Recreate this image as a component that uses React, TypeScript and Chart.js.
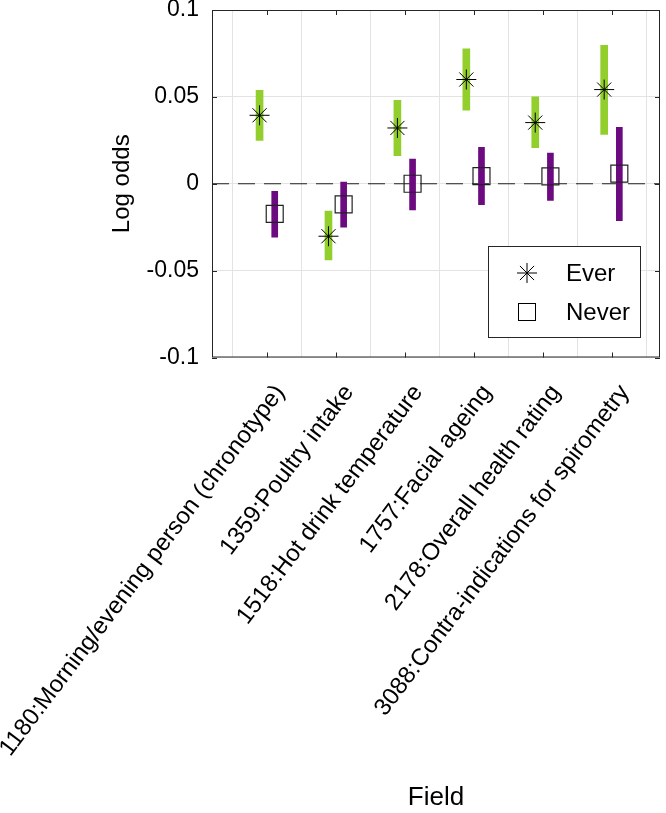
import React, { useEffect, useRef } from "react";
import { Chart, registerables } from "chart.js";

Chart.register(...registerables);

const categories = [
  "1180:Morning/evening person (chronotype)",
  "1359:Poultry intake",
  "1518:Hot drink temperature",
  "1757:Facial ageing",
  "2178:Overall health rating",
  "3088:Contra-indications for spirometry",
];
const categoryPositions = [1, 2, 3, 4, 5, 6];

const everValues = [0.0394, -0.0302, 0.0321, 0.06, 0.0352, 0.0542];
const everLower = [0.025, -0.0438, 0.0161, 0.0424, 0.0208, 0.0284];
const everUpper = [0.0537, -0.0158, 0.048, 0.0776, 0.05, 0.0796];

const neverValues = [-0.0173, -0.0119, 0.0, 0.0044, 0.0042, 0.0058];
const neverLower = [-0.0308, -0.025, -0.015, -0.0121, -0.0096, -0.0212];
const neverUpper = [-0.0043, 0.0009, 0.0142, 0.021, 0.0177, 0.0325];

const yTickValues = [-0.1, -0.05, 0, 0.05, 0.1];
const yTickLabels = ["-0.1", "-0.05", "0", "0.05", "0.1"];

const seriesNames = ["Ever", "Never"];
const groupOffset = 0.11;
const xMin = 0.2;
const xMax = 6.7;

const GREEN = "#93cf2c";
const PURPLE = "#6c0a80";
const AXIS = "#262626";
const FONT = "'Liberation Sans', Arial, Helvetica, sans-serif";

function drawStar(ctx: CanvasRenderingContext2D, x: number, y: number, r: number) {
  ctx.beginPath();
  ctx.moveTo(x - r, y);
  ctx.lineTo(x + r, y);
  ctx.moveTo(x, y - r);
  ctx.lineTo(x, y + r);
  const d = r * Math.SQRT1_2;
  ctx.moveTo(x - d, y - d);
  ctx.lineTo(x + d, y + d);
  ctx.moveTo(x - d, y + d);
  ctx.lineTo(x + d, y - d);
  ctx.stroke();
}

const framePlugin = {
  id: "frameAndLegend",
  afterDraw(chart: any) {
    const { ctx, chartArea } = chart;
    const { left, right, top, bottom } = chartArea;
    const xs = chart.scales.x;
    const ys = chart.scales.y;
    ctx.save();
    ctx.strokeStyle = AXIS;
    ctx.lineWidth = 1;
    ctx.strokeRect(left + 0.5, top + 0.5, right - left - 1, bottom - top - 1);
    const tl = 5;
    ctx.beginPath();
    categoryPositions.forEach((v) => {
      const px = Math.round(xs.getPixelForValue(v)) + 0.5;
      ctx.moveTo(px, bottom);
      ctx.lineTo(px, bottom - tl);
      ctx.moveTo(px, top);
      ctx.lineTo(px, top + tl);
    });
    yTickValues.forEach((v) => {
      const py = Math.round(ys.getPixelForValue(v)) + 0.5;
      ctx.moveTo(left, py);
      ctx.lineTo(left + tl, py);
      ctx.moveTo(right, py);
      ctx.lineTo(right - tl, py);
    });
    ctx.stroke();

    // legend box
    const bw = 152;
    const bh = 91;
    const bx = right - 20 - bw;
    const by = bottom - 20.5 - bh;
    ctx.fillStyle = "#ffffff";
    ctx.fillRect(bx, by, bw, bh);
    ctx.strokeStyle = AXIS;
    ctx.strokeRect(Math.round(bx) + 0.5, Math.round(by) + 0.5, bw, bh);
    ctx.fillStyle = "#000000";
    ctx.font = `24px ${FONT}`;
    ctx.textBaseline = "middle";
    ctx.textAlign = "left";
    const mx = bx + 39;
    const tx = bx + 78;
    const y1 = by + 27;
    const y2 = by + 66;
    ctx.strokeStyle = "#000000";
    ctx.lineWidth = 1;
    drawStar(ctx, mx, y1, 10);
    ctx.strokeRect(mx - 8.5, y2 - 8.5, 17, 17);
    ctx.fillText(seriesNames[0], tx, y1 + 1);
    ctx.fillText(seriesNames[1], tx, y2 + 1);
    ctx.restore();
  },
};

function zeroPadding(scale: any) {
  scale.paddingLeft = 0;
  scale.paddingRight = 0;
  scale.paddingTop = 0;
  scale.paddingBottom = 0;
}

export default function App() {
  const ref = useRef<HTMLCanvasElement | null>(null);

  useEffect(() => {
    if (!ref.current) return;
    const everBars = categoryPositions.map((c, i) => ({ x: c - groupOffset, y: [everLower[i], everUpper[i]] }));
    const neverBars = categoryPositions.map((c, i) => ({ x: c + groupOffset, y: [neverLower[i], neverUpper[i]] }));
    const everPts = categoryPositions.map((c, i) => ({ x: c - groupOffset, y: everValues[i] }));
    const neverPts = categoryPositions.map((c, i) => ({ x: c + groupOffset, y: neverValues[i] }));

    const chart = new Chart(ref.current, {
      type: "scatter",
      data: {
        datasets: [
          {
            type: "line",
            label: "zero",
            data: [
              { x: xMin, y: 0 },
              { x: xMax, y: 0 },
            ],
            borderColor: "#222222",
            borderWidth: 1.2,
            borderDash: [17, 9],
            pointRadius: 0,
            order: 10,
          } as any,
          {
            type: "bar",
            label: "Ever CI",
            data: everBars as any,
            backgroundColor: GREEN,
            barThickness: 7,
            grouped: false,
            order: 5,
          } as any,
          {
            type: "bar",
            label: "Never CI",
            data: neverBars as any,
            backgroundColor: PURPLE,
            barThickness: 6,
            grouped: false,
            order: 5,
          } as any,
          {
            type: "scatter",
            label: seriesNames[0],
            data: everPts,
            pointStyle: "star",
            pointRadius: 10,
            borderColor: "#000000",
            borderWidth: 1,
            backgroundColor: "#000000",
            order: 1,
          } as any,
          {
            type: "scatter",
            label: seriesNames[1],
            data: neverPts,
            pointStyle: "rect",
            pointRadius: 12,
            borderColor: "#222222",
            borderWidth: 1.2,
            backgroundColor: "rgba(0,0,0,0)",
            order: 1,
          } as any,
        ],
      },
      options: {
        animation: false,
        responsive: false,
        devicePixelRatio: 1,
        layout: { autoPadding: false, padding: { top: 10, right: 6, left: 0, bottom: 0 } },
        plugins: {
          legend: { display: false },
          tooltip: { enabled: false },
        },
        scales: {
          x: {
            type: "linear",
            min: xMin,
            max: xMax,
            offset: false,
            afterBuildTicks: (scale: any) => {
              scale.ticks = categoryPositions.map((v) => ({ value: v }));
            },
            afterFit: (scale: any) => {
              scale.height = 813 - 357.5 - 0;
              zeroPadding(scale);
            },
            ticks: {
              autoSkip: false,
              maxRotation: 53,
              minRotation: 53,
              padding: 22,
              labelOffset: 13,
              color: "#000000",
              font: { family: FONT, size: 24 },
              callback: (v: any) => {
                const idx = categoryPositions.indexOf(Number(v));
                return idx >= 0 ? categories[idx] : "";
              },
            },
            grid: { color: "#e3e3e3", drawTicks: false, lineWidth: 1 },
            border: { display: false },
            title: {
              display: true,
              text: "Field",
              color: "#000000",
              font: { family: FONT, size: 26 },
              padding: { top: 0, bottom: 0 },
            },
          },
          y: {
            type: "linear",
            min: -0.1,
            max: 0.1,
            afterBuildTicks: (scale: any) => {
              scale.ticks = yTickValues.map((v) => ({ value: v }));
            },
            afterFit: (scale: any) => {
              scale.width = 212;
              zeroPadding(scale);
            },
            ticks: {
              padding: 13,
              color: "#000000",
              font: { family: FONT, size: 23 },
              callback: (v: any) => {
                const idx = yTickValues.findIndex((t) => Math.abs(t - Number(v)) < 1e-9);
                return idx >= 0 ? yTickLabels[idx] : "";
              },
            },
            grid: { color: "#e3e3e3", drawTicks: false, lineWidth: 1 },
            border: { display: false },
            title: {
              display: true,
              text: "Log odds",
              color: "#000000",
              font: { family: FONT, size: 24 },
              padding: { top: 108, bottom: 0 },
            },
          },
        },
      },
      plugins: [framePlugin],
    });
    return () => chart.destroy();
  }, []);

  return (
    <canvas
      ref={ref}
      width={666}
      height={813}
      style={{ position: "fixed", left: 0, top: 0, width: 666, height: 813, display: "block" }}
    />
  );
}
